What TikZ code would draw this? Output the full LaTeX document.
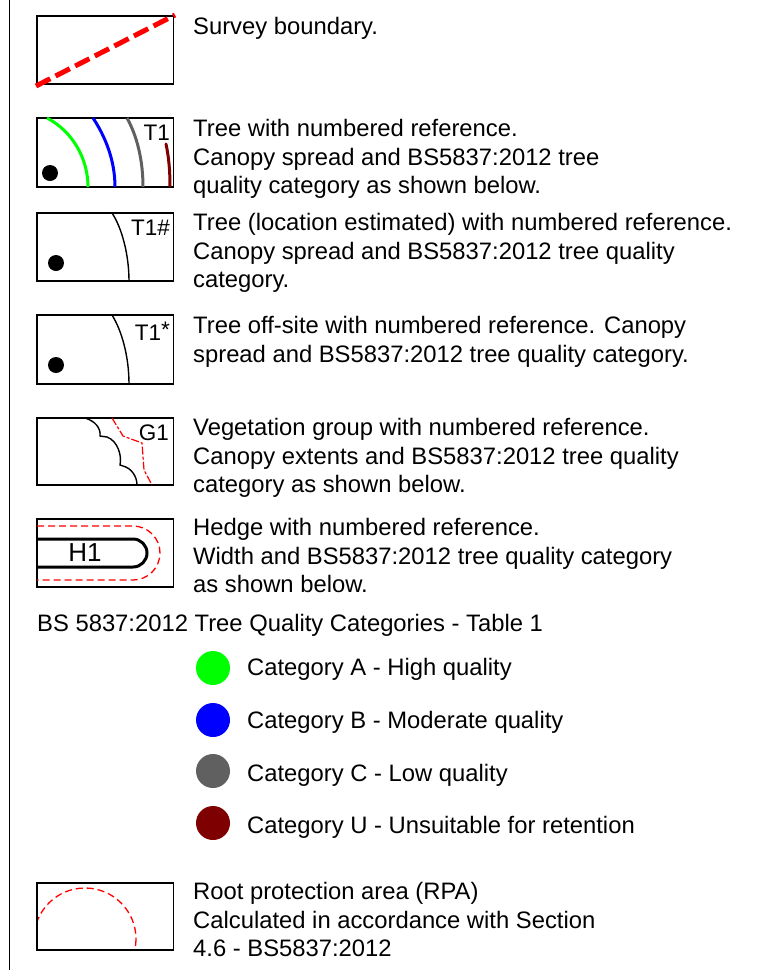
\documentclass[tikz,border=0pt]{standalone}
\usepackage{fontspec}
\setmainfont{Liberation Sans}
\usepackage{xcolor}
\usepackage{tikz}
\usetikzlibrary{calc}
\definecolor{catA}{HTML}{00FF00}
\definecolor{catB}{HTML}{0000FF}
\definecolor{catC}{HTML}{606060}
\definecolor{catU}{HTML}{7F0000}
\definecolor{rpaR}{HTML}{FF0000}

\begin{document}
\begin{tikzpicture}[x=1pt, y=-1pt,
  txt/.style={font=\fontsize{23.8}{28.5}\selectfont, anchor=base west, inner sep=0pt, align=left},
  lbl/.style={font=\fontsize{22.5}{24}\selectfont, anchor=base east, inner sep=0pt},
  keybox/.style={line width=1.4pt, draw=black},
  canopy/.style={line width=3pt, line cap=round},
  reddash/.style={line width=1.3pt, draw=rpaR, dash pattern=on 7pt off 4pt},
  ]
\useasboundingbox (0,0) rectangle (776,970);

% === margin rule
\draw[line width=1.5pt] (9.5,0) -- (9.5,970);

% === survey boundary
\draw[keybox] (37,16) rectangle (173.5,84);
\draw[line width=5pt, draw=rpaR, dash pattern=on 16pt off 6pt] (36,86) -- (175,15);
\node[txt] (survey) at (193,34) {Survey boundary.};

% === tree (base anchor sits on the last line)
\draw[keybox] (37,118) rectangle (173.5,187);
\fill (50,173) circle (8);
\draw[canopy, catA, line cap=butt] (47,118) .. controls (72,131) and (88,158) .. (88,187);
\draw[canopy, catB, line cap=butt] (93,118) .. controls (105,136) and (115,160) .. (115,187);
\draw[canopy, catC, line cap=butt] (127,118) .. controls (137,136) and (143,160) .. (143,187);
\draw[canopy, catU] (166,144) .. controls (169,158) and (170,172) .. (170,186);
\node[lbl] (t1) at (170,140) {T1};
\node[txt] (tree) at (193,193.5) {Tree with numbered reference.\\Canopy spread and BS5837:2012 tree\\quality category as shown below.};

% === tree, location estimated
\draw[keybox] (37,213) rectangle (173.5,281);
\fill (56,263) circle (8);
\draw[line width=1.4pt] (112,213) .. controls (122,228) and (129,255) .. (129,281);
\node[lbl] (t1est) at (170,235) {T1\#};
\node[txt] (treeest) at (193,287.5) {Tree (location estimated) with numbered reference.\\Canopy spread and BS5837:2012 tree quality\\category.};

% === tree off-site
\draw[keybox] (37,315) rectangle (173.5,384);
\fill (56,365) circle (8);
\draw[line width=1.4pt] (112,315) .. controls (122,331) and (129,357) .. (129,384);
\node[lbl] (t1off) at (170,340) {T1\raisebox{3pt}{*}};
\node[txt] (treeoff) at (193,362) {Tree off-site with numbered reference. Canopy\\spread and BS5837:2012 tree quality category.};

% === vegetation group
\draw[keybox] (37,418) rectangle (173.5,485);
\draw[line width=1.4pt] (85,418) .. controls (95,421) and (101,428) .. (100,436)
  -- (107,437) .. controls (118,441) and (122,456) .. (120,465)
  -- (123,466) .. controls (131,468) and (137,476) .. (137,485);
\draw[line width=1.2pt, draw=rpaR, dash pattern=on 8pt off 2pt on 3pt off 2pt]
  (112,418) -- (123,436) -- (142,443) -- (144,470) -- (152,485);
\node[lbl] (g1) at (169,440) {G1};
\node[txt] (vegetation) at (193,492.5) {Vegetation group with numbered reference.\\Canopy extents and BS5837:2012 tree quality\\category as shown below.};

% === hedge
\draw[keybox] (37,519) rectangle (173.5,587);
\draw[reddash] (37,526) -- (133,526) arc[start angle=-90, end angle=90, radius=27] -- (37,580);
\draw[line width=3pt] (37,539) -- (133,539) arc[start angle=-90, end angle=90, radius=14] -- (37,567);
\node[font=\fontsize{26}{30}\selectfont, inner sep=0pt] (h1) at (85,553) {H1};
\node[txt] (hedge) at (193,592.5) {Hedge with numbered reference.\\Width and BS5837:2012 tree quality category\\as shown below.};

% === quality categories
\node[txt] (table) at (37,631.5) {BS 5837:2012 Tree Quality Categories - Table 1};
\fill[catA] (213,668) circle (17);
\node[txt] (cata) at (247,675.5) {Category A - High quality};
\fill[catB] (213,720) circle (17);
\node[txt] (catb) at (247,728.5) {Category B - Moderate quality};
\fill[catC] (213,771) circle (17);
\node[txt] (catc) at (247,781.5) {Category C - Low quality};
\fill[catU] (213,823) circle (17);
\node[txt] (catu) at (247,833.5) {Category U - Unsuitable for retention};

% === root protection area
\begin{scope}
  \clip (37,883) rectangle (173.5,950);
  \draw[reddash] (85,939) circle (51);
\end{scope}
\draw[keybox] (37,883) rectangle (173.5,950);
\node[txt] (rpa) at (193,956.5) {Root protection area (RPA)\\Calculated in accordance with Section\\4.6 - BS5837:2012};

\end{tikzpicture}
\end{document}
